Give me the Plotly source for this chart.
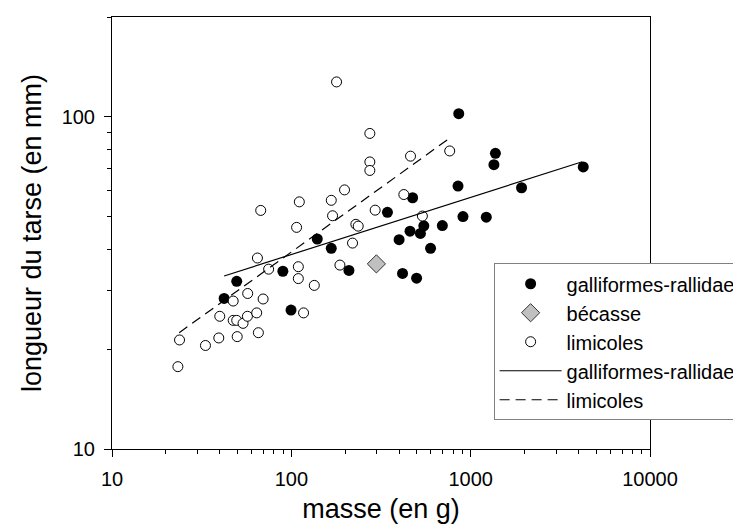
import plotly.graph_objects as go

# --- data ---
gall_x = [42.2, 49.6, 89.7, 99.6, 139.5, 167, 209.5, 343.5, 399, 417, 459, 474.5, 499.5,
          524.5, 548, 597.5, 695, 850, 858, 906, 1222, 1348, 1374, 1922, 4244]
gall_y = [28.4, 32.0, 34.3, 26.2, 42.9, 40.2, 34.5, 51.6, 42.7, 33.8, 45.3, 57.1, 32.7,
          44.6, 47.0, 40.2, 47.1, 61.9, 102.3, 50.1, 49.9, 71.8, 77.7, 61.2, 70.7]

becasse_x = [298]
becasse_y = [36.1]

limi_x = [23.3, 23.8, 33.2, 39.4, 39.9, 47.4, 47.4, 49.6, 49.9, 53.8, 56.9, 57.1, 64.1,
          65.5, 69.6, 64.7, 67.5, 74.7, 109.4, 109.4, 110.8, 107, 117, 134.3, 167, 169.8,
          178.7, 186.6, 198, 219.4, 229, 236, 274, 274, 274, 293.4, 424, 462, 538, 764]
limi_y = [17.7, 21.3, 20.5, 21.6, 25.1, 27.9, 24.4, 24.4, 21.8, 23.9, 25.1, 29.4, 25.7,
          22.4, 28.3, 37.6, 52.3, 34.8, 35.4, 32.6, 55.5, 46.5, 25.7, 31.1, 56.1, 50.4,
          127.5, 35.8, 60.3, 41.7, 47.5, 46.9, 89.2, 73.2, 69.0, 52.4, 58.4, 76.2, 50.3, 79.0]

fit_gall_x = [42.2, 4190]
fit_gall_y = [33.2, 73.3]
fit_limi_x = [23.7, 770]
fit_limi_y = [22.4, 86.6]

x_ticks = [10, 100, 1000, 10000]
x_ticktext = ["10", "100", "1000", "10000"]
y_ticks = [10, 100]
y_ticktext = ["10", "100"]
x_minor = [m * d for d in (10, 100, 1000) for m in range(2, 10)]
y_minor = [m * 10 for m in range(2, 10)] + [200]

FONT = "Arial, Liberation Sans, sans-serif"

fig = go.Figure()
fig.add_trace(go.Scatter(x=gall_x, y=gall_y, mode="markers", name="galliformes-rallidae",
                         marker=dict(symbol="circle", size=11, color="black")))
fig.add_trace(go.Scatter(x=becasse_x, y=becasse_y, mode="markers", name="bécasse",
                         marker=dict(symbol="diamond", size=14, color="#c0c0c0",
                                     line=dict(color="#333333", width=1))))
fig.add_trace(go.Scatter(x=limi_x, y=limi_y, mode="markers", name="limicoles",
                         marker=dict(symbol="circle", size=10, color="white",
                                     line=dict(color="black", width=1))))
fig.add_trace(go.Scatter(x=fit_gall_x, y=fit_gall_y, mode="lines", name="galliformes-rallidae",
                         line=dict(color="black", width=1.2)))
fig.add_trace(go.Scatter(x=fit_limi_x, y=fit_limi_y, mode="lines", name="limicoles",
                         line=dict(color="black", width=1.2, dash="10px,6px")))

axis_common = dict(type="log", showgrid=False, zeroline=False, showline=True,
                   linecolor="black", linewidth=1, mirror=True, ticks="outside",
                   ticklen=7, tickcolor="black", tickwidth=1, ticklabelstandoff=5,
                   tickfont=dict(family=FONT, size=20, color="black"))

fig.update_xaxes(**axis_common, range=[1, 4], tickmode="array", tickvals=x_ticks,
                 ticktext=x_ticktext,
                 minor=dict(tickvals=x_minor, ticks="outside", ticklen=4, tickcolor="black",
                            showgrid=False),
                 title=dict(text="masse (en g)", font=dict(family=FONT, size=27, color="black"),
                            standoff=10))
fig.update_yaxes(**axis_common, range=[1, 2.30103], tickmode="array", tickvals=y_ticks,
                 ticktext=y_ticktext,
                 minor=dict(tickvals=y_minor, ticks="outside", ticklen=4, tickcolor="black",
                            showgrid=False),
                 title=dict(text="longueur du tarse (en mm)",
                            font=dict(family=FONT, size=27, color="black"), standoff=12))

fig.update_layout(
    width=741, height=527,
    margin=dict(l=104, r=98, t=9, b=86),
    paper_bgcolor="white", plot_bgcolor="white",
    font=dict(family=FONT, color="black"),
    legend=dict(x=0.708, y=0.43, xanchor="left", yanchor="top",
                bgcolor="white", bordercolor="#808080", borderwidth=1,
                font=dict(family=FONT, size=20, color="black"),
                itemwidth=62, tracegroupgap=0),
)

fig.write_html("out.html")
